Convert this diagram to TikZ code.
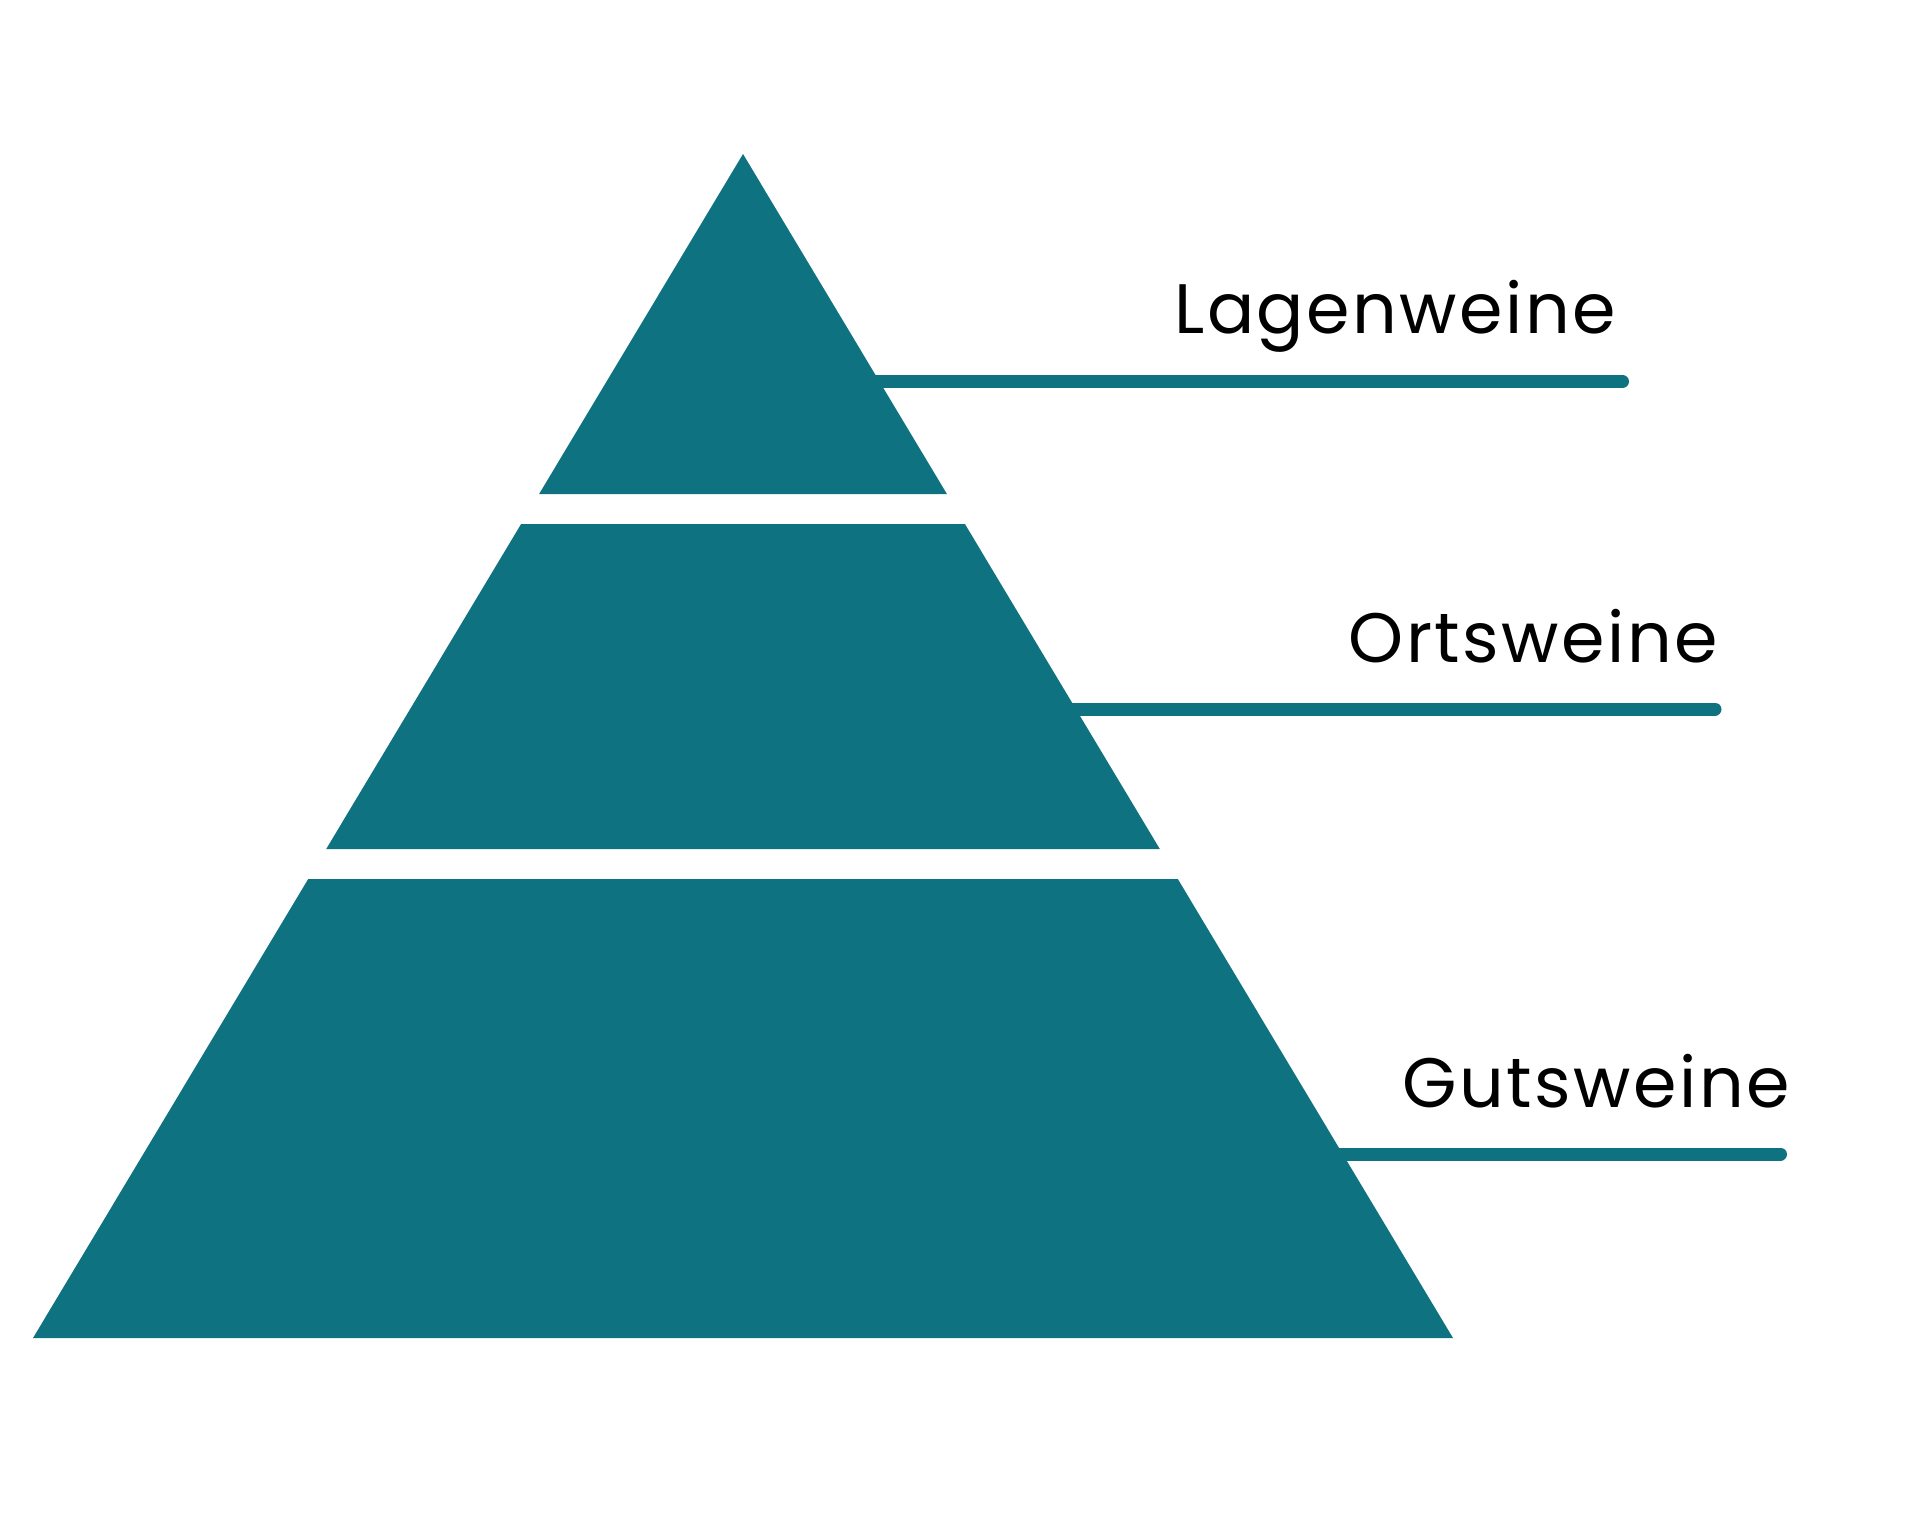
\documentclass[tikz,border=0pt]{standalone}
\usepackage{fontspec}
\setmainfont{Poppins}[LetterSpace=3.5]
\definecolor{teal}{RGB}{15,114,128}
\tikzset{
  tier/.style={fill=teal, draw=none},
  leader/.style={draw=teal, line width=13pt, line cap=round},
  label/.style={anchor=base east, inner sep=0pt, text=black, font=\fontsize{70}{84}\selectfont}
}
\begin{document}
\begin{tikzpicture}[x=1pt,y=-1pt]
\useasboundingbox (0,0) rectangle (1920,1536);
% tiers
\fill[tier] (743,154) -- (946.9,494) -- (539.1,494) -- cycle;
\fill[tier] (521.1,524) -- (964.9,524) -- (1159.8,849) -- (326.2,849) -- cycle;
\fill[tier] (308.2,879) -- (1177.8,879) -- (1453,1338) -- (33,1338) -- cycle;
% leader coordinates
\coordinate (l1s) at (860,381.5);
\coordinate (l1e) at (1622.5,381.5);
\coordinate (l2s) at (1060,709);
\coordinate (l2e) at (1715,709);
\coordinate (l3s) at (1325,1154);
\coordinate (l3e) at (1780.5,1154);
\draw[leader] (l1s) -- (l1e);
\draw[leader] (l2s) -- (l2e);
\draw[leader] (l3s) -- (l3e);
% labels
\node[label] (lagen) at (1616,333) {Lagenweine};
\node[label] (orts) at (1718,662) {Ortsweine};
\node[label] (guts) at (1790,1107) {Gutsweine};
\end{tikzpicture}
\end{document}
